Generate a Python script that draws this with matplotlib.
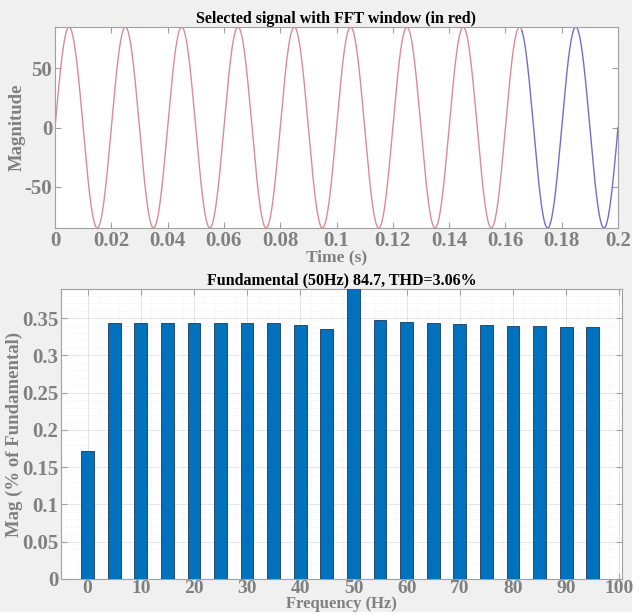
import numpy as np
import matplotlib
matplotlib.use("Agg")
import matplotlib.pyplot as plt
from matplotlib.ticker import MultipleLocator
from matplotlib.patches import Rectangle

# signal parameters
fundamental_amp = 84.7
fundamental_freq = 50
t_end = 0.2
window_end = 0.166

# harmonic spectrum (% of fundamental)
freqs = [0, 5, 10, 15, 20, 25, 30, 35, 40, 45, 50, 55, 60, 65, 70, 75, 80, 85, 90, 95]
mags = [0.172, 0.344, 0.344, 0.344, 0.344, 0.344, 0.343, 0.343, 0.341, 0.336, 100.0,
        0.348, 0.345, 0.343, 0.342, 0.341, 0.340, 0.339, 0.338, 0.338]

title_top = "Selected signal with FFT window (in red)"
title_bot = "Fundamental (50Hz) 84.7, THD=3.06%"

plt.rcParams['font.family'] = ['Liberation Serif', 'DejaVu Serif']
plt.rcParams['font.weight'] = 'bold'
plt.rcParams['axes.unicode_minus'] = False

tick_col = '#808080'
spine_col = '#a0a0a0'

fig = plt.figure(figsize=(6.44, 6.15), dpi=100, facecolor='white')
fig.patches.append(Rectangle((0, 3 / 615), 632 / 644, 1, transform=fig.transFigure,
                             facecolor='#f0f0f0', edgecolor='none', zorder=-1))

ax1 = fig.add_axes([55 / 644, 1 - 228 / 615, 563 / 644, 201 / 615])
ax2 = fig.add_axes([61 / 644, 1 - 579 / 615, 561 / 644, 290 / 615])

# top: time signal
t = np.linspace(0, t_end, 4001)
sig = fundamental_amp * np.sin(2 * np.pi * fundamental_freq * t)
in_win = t <= window_end
ax1.plot(t[in_win], sig[in_win], color='#d98c98', lw=1.0)
out_win = t >= window_end - 1e-4
ax1.plot(t[out_win], sig[out_win], color='#7070c8', lw=1.0)
ax1.set_xlim(0, t_end)
ax1.set_ylim(-fundamental_amp, fundamental_amp)
ax1.set_xticks(np.arange(0, 0.201, 0.02))
ax1.set_xticklabels(['0', '0.02', '0.04', '0.06', '0.08', '0.1', '0.12', '0.14', '0.16', '0.18', '0.2'])
ax1.set_yticks([-50, 0, 50])
ax1.set_title(title_top, fontsize=11.5, fontweight='bold', pad=3)
ax1.set_xlabel('Time (s)', fontsize=12.5, fontweight='bold', color=tick_col, labelpad=-1)
ax1.set_ylabel('Magnitude', fontsize=13.5, fontweight='bold', color=tick_col, labelpad=-1)

# bottom: spectrum
ax2.bar(freqs, mags, width=2.4, color='#0072bd', edgecolor='#1a3a5a', lw=0.6, zorder=3)
ax2.set_xlim(-5, 100.5)
ax2.set_ylim(0, 0.389)
ax2.set_xticks(np.arange(0, 101, 10))
ax2.set_yticks([0, 0.05, 0.1, 0.15, 0.2, 0.25, 0.3, 0.35])
ax2.set_yticklabels(['0', '0.05', '0.1', '0.15', '0.2', '0.25', '0.3', '0.35'])
ax2.xaxis.set_minor_locator(MultipleLocator(2))
ax2.yaxis.set_minor_locator(MultipleLocator(0.01))
ax2.grid(which='major', color='#e0e0e0', lw=0.6, zorder=0)
ax2.grid(which='minor', color='#ececec', lw=0.5, ls=':', zorder=0)
ax2.set_title(title_bot, fontsize=11.5, fontweight='bold', pad=3)
ax2.set_xlabel('Frequency (Hz)', fontsize=12, fontweight='bold', color=tick_col, labelpad=-1)
ax2.set_ylabel('Mag (% of Fundamental)', fontsize=13.5, fontweight='bold', color=tick_col, labelpad=-1)

for ax in (ax1, ax2):
    ax.set_facecolor('white')
    for s in ax.spines.values():
        s.set_color(spine_col)
    ax.tick_params(which='major', direction='in', top=True, right=True, length=4,
                   color=spine_col, labelcolor=tick_col, labelsize=15, pad=2)
    ax.tick_params(which='minor', length=0, top=True, right=True)
ax2.tick_params(axis='x', which='major', labelsize=14, pad=1)
for ax in (ax1, ax2):
    for lab in ax.get_xticklabels() + ax.get_yticklabels():
        lab.set_fontweight('bold')

fig.savefig('out.png', dpi=100, facecolor=fig.get_facecolor())
